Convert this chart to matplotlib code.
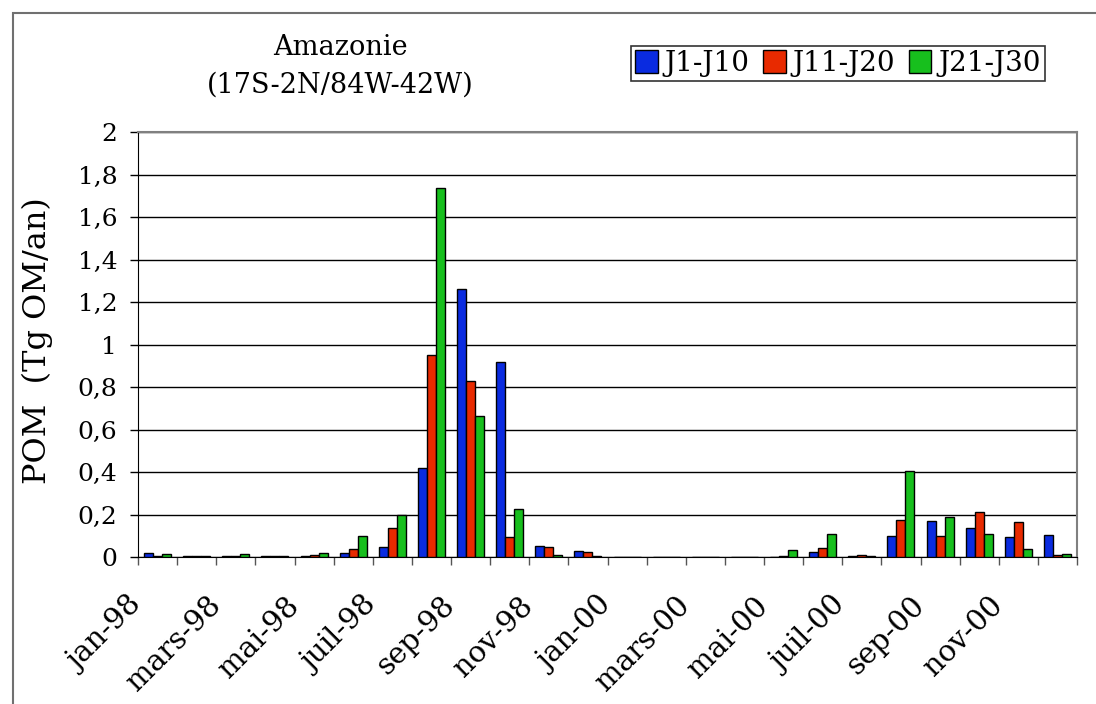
import numpy as np
import matplotlib
matplotlib.use('Agg')
from matplotlib import pyplot as plt
from matplotlib.patches import Rectangle

plt.rcParams['font.family'] = ['DejaVu Serif']

# monthly POM emissions, 1998 then 2000, split by 10-day period
months = ['jan-98', 'fev-98', 'mars-98', 'avr-98', 'mai-98', 'juin-98',
          'juil-98', 'aou-98', 'sep-98', 'oct-98', 'nov-98', 'dec-98',
          'jan-00', 'fev-00', 'mars-00', 'avr-00', 'mai-00', 'juin-00',
          'juil-00', 'aou-00', 'sep-00', 'oct-00', 'nov-00', 'dec-00']
j1_j10 = [0.020, 0.003, 0.003, 0.003, 0.004, 0.019, 0.047, 0.420, 1.260, 0.920, 0.050, 0.030,
          0.000, 0.002, 0.000, 0.000, 0.002, 0.024, 0.003, 0.097, 0.168, 0.136, 0.094, 0.105]
j11_j20 = [0.003, 0.003, 0.005, 0.003, 0.008, 0.036, 0.135, 0.950, 0.830, 0.095, 0.046, 0.022,
           0.000, 0.002, 0.000, 0.000, 0.006, 0.044, 0.011, 0.176, 0.097, 0.212, 0.166, 0.011]
j21_j30 = [0.013, 0.003, 0.013, 0.003, 0.020, 0.100, 0.198, 1.735, 0.665, 0.225, 0.011, 0.005,
           0.000, 0.000, 0.000, 0.000, 0.033, 0.108, 0.006, 0.405, 0.187, 0.108, 0.039, 0.016]
series_names = ['J1-J10', 'J11-J20', 'J21-J30']
colors = ['#0a2be0', '#e82a00', '#17bf1d']
yticks = [0, 0.2, 0.4, 0.6, 0.8, 1.0, 1.2, 1.4, 1.6, 1.8, 2.0]
ytick_labels = ['0', '0,2', '0,4', '0,6', '0,8', '1', '1,2', '1,4', '1,6', '1,8', '2']

fig = plt.figure(figsize=(10.96, 7.04), dpi=100)
ax = fig.add_axes([138/1096, 1-557/704, 939/1096, 425/704])

x = np.arange(len(months))
w = 0.23
for k, (vals, name, c) in enumerate(zip([j1_j10, j11_j20, j21_j30], series_names, colors)):
    ax.bar(x + (k-1)*w, vals, w, color=c, edgecolor='black', linewidth=1.0,
           label=name, zorder=3)

ax.set_xlim(-0.5, len(months)-0.5)
ax.set_ylim(0, 2)
ax.set_yticks(yticks)
ax.set_yticklabels(ytick_labels, fontsize=18)
ax.yaxis.grid(True, color='black', linewidth=1.0, zorder=0)

# tick marks on every month boundary, a label every two months
bounds = np.arange(-0.5, len(months), 1.0)
ax.set_xticks(bounds)
ax.set_xticklabels([months[int(b+0.5)] if (b+0.5) % 2 == 0 and b+0.5 < len(months) else ''
                    for b in bounds], fontsize=21, rotation=45, ha='right',
                   va='center', rotation_mode='anchor')
ax.tick_params(axis='x', direction='out', length=6, width=1, color='#555555', pad=26)
ax.tick_params(axis='y', direction='out', length=6, width=1, color='black', pad=9)

for s in ['top', 'right']:
    ax.spines[s].set_color('#808080')
    ax.spines[s].set_linewidth(1.5)
ax.spines['left'].set_color('black')
ax.spines['bottom'].set_color('black')

ax.set_ylabel('POM  (Tg OM/an)', fontsize=23)
ax.yaxis.set_label_coords(-0.09, 0.51)

fig.text(340/1096, 1-66/704, 'Amazonie\n(17S-2N/84W-42W)', ha='center', va='center',
         fontsize=19.5, linespacing=1.5)

leg = ax.legend(loc='center', bbox_to_anchor=(838/1096, 1-63.5/704),
                bbox_transform=fig.transFigure, ncol=3, fontsize=20, frameon=True,
                fancybox=False, shadow=False, handlelength=0.8, handleheight=0.9,
                handletextpad=0.25, columnspacing=0.5, borderpad=0.15, borderaxespad=0)
leg.get_frame().set_edgecolor('black')
leg.get_frame().set_linewidth(1.2)

# outer chart frame
fig.patches.append(Rectangle((13/1096, -0.05), 1.1, 1-13/704+0.05, transform=fig.transFigure,
                             fill=False, edgecolor='#707070', linewidth=1.5))

fig.savefig('out.png', dpi=100)
